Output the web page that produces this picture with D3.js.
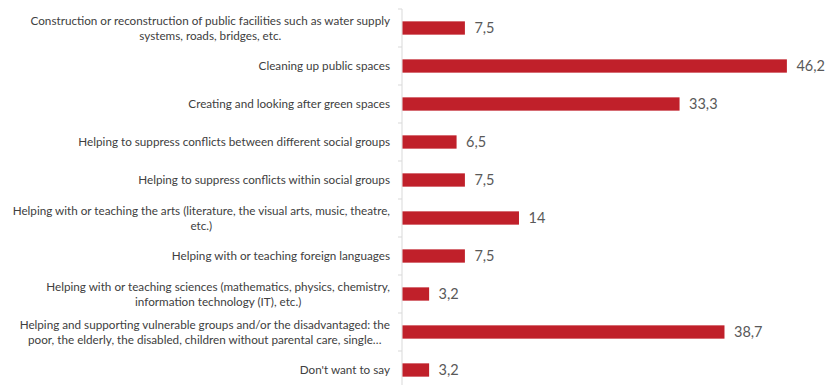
<!DOCTYPE html>
<html><head><meta charset="utf-8">
<script src="https://cdn.jsdelivr.net/npm/d3@7"></script>
<style>body{margin:0;background:#fff}svg{display:block}</style>
</head><body>
<svg id="c" width="830" height="385"></svg>
<script>
const categories = [
  "Construction or reconstruction of public facilities such as water supply\nsystems, roads, bridges, etc.",
  "Cleaning up public spaces",
  "Creating and looking after green spaces",
  "Helping to suppress conflicts between different social groups",
  "Helping to suppress conflicts within social groups",
  "Helping with or teaching the arts (literature, the visual arts, music, theatre,\netc.)",
  "Helping with or teaching foreign languages",
  "Helping with or teaching sciences (mathematics, physics, chemistry,\ninformation technology (IT), etc.)",
  "Helping and supporting vulnerable groups and/or the disadvantaged: the\npoor, the elderly, the disabled, children without parental care, single…",
  "Don't want to say"
];
const values = [7.5, 46.2, 33.3, 6.5, 7.5, 14, 7.5, 3.2, 38.7, 3.2];

const svg = d3.select("#c");
const x = d3.scaleLinear().domain([0, 50]).range([402, 818]);
const y = d3.scaleBand().domain(categories).range([9, 389]).paddingInner(0.65).paddingOuter(0.325);
const step = y.step();
const fmt = v => String(v).replace(".", ",");

const ax = svg.append("g");
ax.append("line").attr("x1", 402).attr("x2", 402).attr("y1", 9).attr("y2", 389)
  .attr("stroke", "#d9d9d9").attr("stroke-width", 1);
d3.range(categories.length + 1).forEach(i => {
  const yy = 9 + i * step;
  ax.append("line").attr("x1", 398).attr("x2", 402).attr("y1", yy).attr("y2", yy)
    .attr("stroke", "#d9d9d9");
});

svg.append("g").selectAll("rect").data(values).join("rect")
  .attr("x", x(0) + 0.5)
  .attr("y", (d, i) => y(categories[i]))
  .attr("width", d => x(d) - x(0))
  .attr("height", y.bandwidth())
  .attr("fill", "#C0202A");

svg.append("g").selectAll("text").data(values).join("text")
  .attr("x", d => x(d) + 10)
  .attr("y", (d, i) => y(categories[i]) + y.bandwidth() / 2)
  .attr("dy", "0.36em")
  .attr("font-family", "Lato, 'Open Sans', sans-serif")
  .attr("font-size", 14.5)
  .attr("fill", "#595959")
  .text(fmt);

const lab = svg.append("g").attr("font-family", "Lato, 'Open Sans', sans-serif")
  .attr("font-size", 11.7).attr("fill", "#404040");
categories.forEach(c => {
  const lines = c.split("\n");
  const cy = y(c) + y.bandwidth() / 2;
  const lh = 15;
  const t = lab.append("text");
  const spans = lines.map((ln, j) => t.append("tspan")
      .attr("y", cy + (j - (lines.length - 1) / 2) * lh)
      .attr("dy", "0.35em").text(ln));
  const maxW = d3.max(spans, s => s.node().getComputedTextLength());
  t.attr("text-anchor", "middle");
  spans.forEach(s => s.attr("x", 390 - maxW / 2));
});
</script>
</body></html>
